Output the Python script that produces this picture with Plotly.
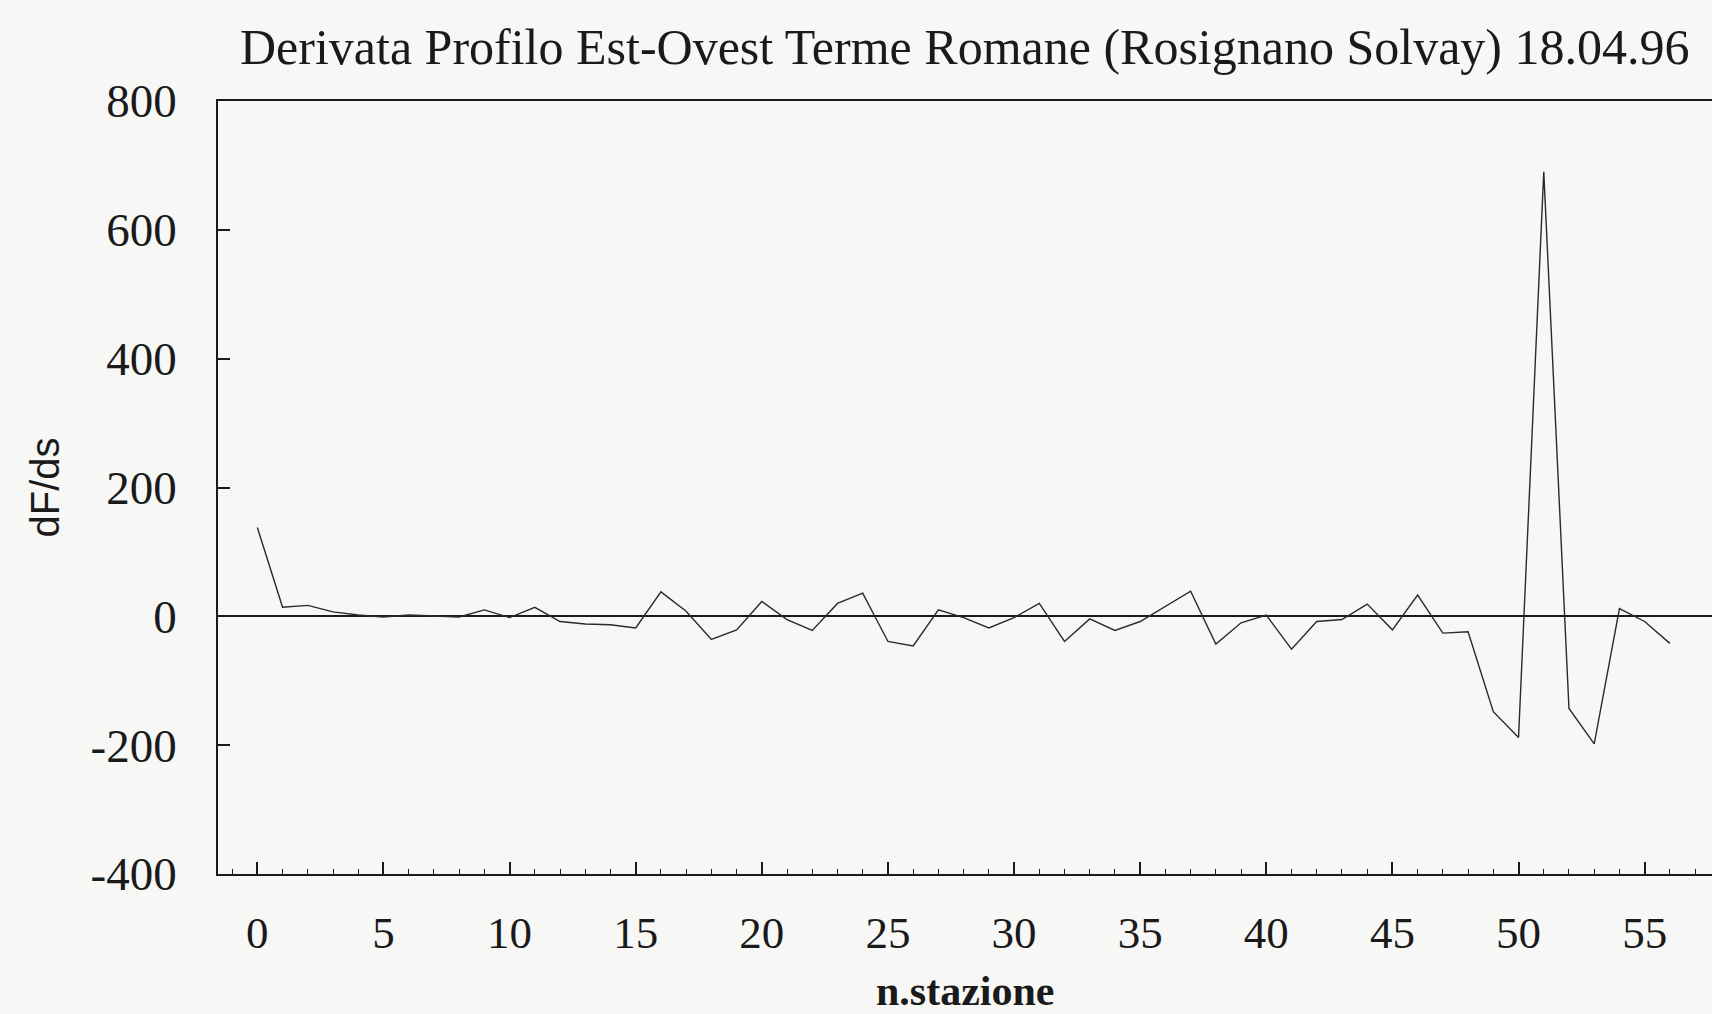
import plotly.graph_objects as go

stations = list(range(0, 57))
dfds = [138, 14, 17, 7, 2, -1, 2, 0, -1, 10,
        -2, 14, -8, -12, -13, -18, 38, 8, -36, -21,
        23, -5, -22, 20, 36, -39, -46, 10, -2, -18,
        -2, 20, -39, -4, -22, -8, 15, 39, -43, -10,
        2, -51, -8, -5, 19, -21, 33, -26, -24, -148,
        -188, 690, -143, -198, 12, -8, -42]

x_ticks = [0, 5, 10, 15, 20, 25, 30, 35, 40, 45, 50, 55]
y_ticks = [-400, -200, 0, 200, 400, 600, 800]
y_tick_labels = ["-400", "-200", "0", "200", "400", "600", "800"]

title_text = "Derivata Profilo Est-Ovest Terme Romane (Rosignano Solvay) 18.04.96"
x_title = "<b>n.stazione</b>"
y_title = "dF/ds"

serif = "Liberation Serif, Times New Roman, serif"
ink = "#1a1a1a"

fig = go.Figure()
fig.add_trace(go.Scatter(x=stations, y=dfds, mode="lines",
                         line=dict(color="#2a2a2a", width=1.4),
                         showlegend=False))

fig.update_layout(
    width=1712, height=1014,
    margin=dict(l=218, r=0, t=101, b=140),
    paper_bgcolor="#f7f7f5", plot_bgcolor="#f7f7f5",
    font=dict(family=serif, color=ink),
    xaxis=dict(range=[-1.56, 57.67], tickvals=x_ticks,
               ticks="inside", ticklen=12, tickwidth=1.5, tickcolor=ink,
               minor=dict(dtick=1, ticks="inside", ticklen=5, tickwidth=1, tickcolor=ink),
               showline=True, linecolor=ink, linewidth=1.8, mirror=True,
               showgrid=False, zeroline=False,
               tickfont=dict(family=serif, size=45, color=ink),
               ticklabelstandoff=18),
    yaxis=dict(range=[-400, 800], tickvals=y_ticks, ticktext=y_tick_labels,
               ticks="inside", ticklen=12, tickwidth=1.5, tickcolor=ink,
               showline=True, linecolor=ink, linewidth=1.8,
               showgrid=False, zeroline=True, zerolinecolor=ink, zerolinewidth=1.8,
               tickfont=dict(family=serif, size=47, color=ink),
               ticklabelstandoff=30),
    annotations=[
        dict(text=title_text, xref="paper", yref="paper", x=0.5, y=1.0,
             xanchor="center", yanchor="bottom", yshift=24, showarrow=False,
             font=dict(family=serif, size=50, color=ink)),
        dict(text=x_title, xref="paper", yref="paper", x=0.5, y=0,
             xanchor="center", yanchor="top", yshift=-92, showarrow=False,
             font=dict(family=serif, size=42, color=ink)),
        dict(text=y_title, xref="paper", yref="paper", x=0, y=0.5,
             xanchor="center", yanchor="middle", xshift=-174, showarrow=False,
             textangle=-90,
             font=dict(family="Liberation Sans Narrow, Liberation Sans, sans-serif", size=40, color=ink)),
    ],
)

fig.write_html("out.html", config={"displayModeBar": False},
               post_script="document.body.style.margin='0';document.body.style.overflow='hidden';")
